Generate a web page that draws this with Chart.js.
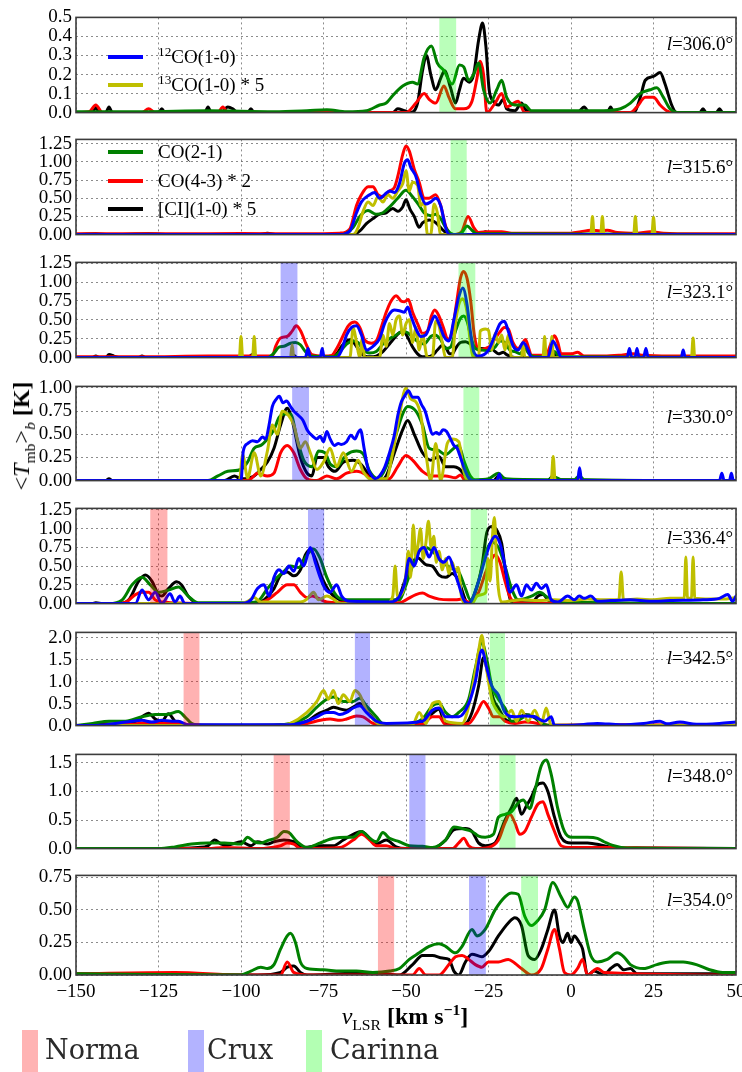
<!DOCTYPE html>
<html><head><meta charset="utf-8">
<script src="https://cdn.jsdelivr.net/npm/chart.js@4.4.0/dist/chart.umd.min.js"></script>
<style>
html,body{margin:0;padding:0;background:#fff;width:742px;height:1072px;overflow:hidden;position:relative;font-family:'Liberation Serif',serif;}
canvas{position:absolute;left:0}
.t{position:absolute;white-space:nowrap;color:#000;font-size:19px;line-height:19px}
.ln{position:absolute;height:4px;width:35px;left:108px}
.rect{position:absolute;width:16px;top:1030px;height:42px}
.bl{position:absolute;font-family:'DejaVu Serif',serif;font-size:27px;color:#2a2a2a;top:1036px;line-height:27px}
sub,sup{font-size:70%;line-height:0}
</style></head><body>
<span style="font-family:'Liberation Serif';position:absolute;left:-100px;top:-100px">0</span>
<script>
// ---------------- data ----------------
const longitudes = ['306.0','315.6','323.1','330.0','336.4','342.5','348.0','354.0'];
const velocityTicks = [-150,-125,-100,-75,-50,-25,0,25,50];
const normaBand   = [null,null,null,null,[-127.5,-122.3],[-117.4,-112.6],[-90.1,-85.2],[-58.5,-53.6]];
const cruxBand    = [null,null,[-88,-82.9],[-84.5,-79.4],[-79.7,-74.8],[-65.5,-60.9],[-49,-44.1],[-30.9,-25.8]];
const carinnaBand = [[-39.9,-34.8],[-36.5,-31.6],[-34.1,-29],[-32.6,-27.8],[-30.4,-25.4],[-24.6,-20],[-21.7,-16.8],[-15.1,-10]];

// panel 1 (l=306.0)
const p1_12co = [];
const p1_13co = [];
const p1_co21 = [[-150,0.005],[-130,0.005],[-110,0.01],[-90,0.005],[-80,0.01],[-74,0.015],[-68,0.005],[-62,0.01],[-58,0.04],[-56,0.05],[-54,0.09],[-51,0.14],[-48,0.16],[-46.5,0.15],[-44.5,0.29],[-42.3,0.35],[-40.5,0.26],[-38.5,0.22],[-36,0.15],[-33.8,0.25],[-32.5,0.24],[-31,0.17],[-29.5,0.2],[-28,0.26],[-26.5,0.12],[-24.5,0.05],[-22.5,0.12],[-21,0.17],[-19.5,0.08],[-17,0.04],[-14,0.04],[-12,0.01],[-5,0.01],[2,0.01],[10,0.01],[15,0.02],[18,0.05],[21,0.1],[24,0.12],[26,0.13],[28,0.08],[30,0.02],[33,0.0],[50,0.0]];
const p1_co43 = [[-150,0],[-146,0.005],[-144,0.04],[-142,0.0],[-130,0.0],[-128,0.02],[-126,0.0],[-107,0.0],[-105.5,0.03],[-104,0.0],[-60,0.0],[-50,0.0],[-47,0.05],[-44.5,0.1],[-43,0.07],[-41,0.05],[-38.5,0.14],[-37,0.08],[-35,0.02],[-32.5,0.02],[-30,0.06],[-28.5,0.18],[-27.5,0.27],[-26.5,0.2],[-25.5,0.0],[-23,0.05],[-21,0.1],[-19.5,0.03],[-16,0.06],[-14,0.0],[18,0.0],[20,0.03],[22.5,0.08],[25,0.08],[27,0.04],[29,0.01],[31,0],[50,0]];
const p1_ci = [[-150,0.0],[-145,0.0],[-144,0.03],[-143,0.0],[-141,0.0],[-140,0.03],[-139,0.0],[-125,0.0],[-124,0.02],[-123,0.0],[-111,0.0],[-110,0.03],[-109,0.0],[-106,0.0],[-104,0.03],[-102.5,0.02],[-101,0.0],[-98,0.0],[-97,0.02],[-96,0.0],[-54,0.0],[-52.5,0.02],[-50.5,0.01],[-48.5,0.0],[-46.5,0.05],[-45,0.22],[-43.8,0.3],[-42.5,0.2],[-41,0.12],[-39.5,0.18],[-38.3,0.22],[-36.5,0.13],[-35,0.05],[-33.8,0.12],[-32.6,0.18],[-30.8,0.16],[-29.5,0.2],[-28,0.38],[-26.8,0.47],[-25.8,0.35],[-24.8,0.12],[-23.5,0.06],[-22,0.04],[-20.5,0.07],[-19.5,0.02],[-17,0.01],[-15,0.05],[-14,0.02],[-12,0.0],[2,0],[4,0.03],[5.5,0.0],[11,0.0],[12,0.03],[13,0.0],[19,0.0],[21,0.08],[22.5,0.17],[25,0.19],[27,0.21],[28.5,0.15],[30.5,0.04],[32,0.0],[39,0],[40,0.02],[41,0],[44,0],[45,0.02],[46,0],[50,0]];

// panel 2 (l=315.6)
const p2_12co = [[-150,0],[-70,0],[-67,0.05],[-65,0.3],[-63.5,0.45],[-61,0.55],[-59.5,0.58],[-58,0.5],[-56.5,0.55],[-55,0.6],[-53.5,0.58],[-52,0.7],[-50.5,0.98],[-49.5,1.03],[-48.5,0.92],[-47,0.8],[-45.5,0.55],[-44,0.42],[-42.5,0.45],[-41,0.5],[-39.5,0.4],[-38,0.1],[-37,0.0],[50,0]];
const p2_13co = [[-150,0],[-66,0],[-64.5,0.1],[-63,0.32],[-61.5,0.45],[-60,0.4],[-58.5,0.52],[-57,0.45],[-55.5,0.55],[-54,0.5],[-52.5,0.6],[-51,0.7],[-50,0.88],[-49,0.6],[-48,0.72],[-46.5,0.68],[-45.5,0.4],[-44.5,0.45],[-43.5,0.0],[-42.5,0.0],[-41.5,0.42],[-40.5,0.3],[-39.5,0.0],[6,0],[6.5,0.25],[7,0],[9,0],[9.5,0.25],[10,0],[19,0],[19.5,0.25],[20,0],[24.5,0],[25,0.24],[25.5,0],[50,0]];
const p2_co21 = [[-150,0],[-69,0],[-66,0.1],[-64,0.25],[-61.5,0.33],[-59,0.28],[-57,0.3],[-55,0.38],[-52.5,0.5],[-50,0.61],[-48,0.52],[-46,0.4],[-44.5,0.3],[-42.5,0.26],[-41,0.28],[-39.5,0.22],[-38,0.1],[-36.5,0.02],[-34.5,0.0],[-33,0.03],[-31.5,0.12],[-30,0.06],[-28.5,0.01],[-20,0.01],[50,0]];
const p2_co43 = [[-150,0.01],[-120,0.01],[-100,0.015],[-80,0.01],[-70,0.02],[-67,0.08],[-65,0.4],[-63.5,0.55],[-61.5,0.66],[-60,0.66],[-58.5,0.55],[-57,0.52],[-55,0.6],[-53.5,0.65],[-52.5,0.8],[-51,1.1],[-50,1.22],[-49,1.15],[-47.5,0.9],[-46,0.72],[-44.5,0.5],[-43,0.5],[-41,0.55],[-39.5,0.4],[-38,0.12],[-36.5,0.01],[-35,0.0],[-33,0.05],[-31.2,0.25],[-29.5,0.1],[-28,0.03],[-25,0.04],[-21,0.04],[-18,0.02],[0,0.02],[3,0.04],[6,0.06],[9,0.05],[11,0.06],[14,0.03],[20,0.02],[24,0.04],[28,0.02],[38,0.01],[50,0.01]];
const p2_ci = [[-150,0],[-144,0.01],[-140,0.0],[-128,0.01],[-120,0.0],[-95,0.0],[-92,0.02],[-89,0.0],[-66,0.0],[-64,0.05],[-62,0.15],[-60,0.22],[-58,0.28],[-56,0.3],[-54,0.36],[-52.5,0.32],[-51,0.38],[-50,0.48],[-48.8,0.35],[-47.5,0.25],[-46,0.1],[-45,0.16],[-43,0.2],[-41.5,0.18],[-40,0.12],[-38.5,0.05],[-37,0.0],[-27,0.0],[-26,0.04],[-24.5,0.02],[-22,0.03],[-20,0.0],[23,0.0],[25,0.04],[27,0.0],[50,0]];

// panel 3 (l=323.1)
const p3_12co = [[-150,0],[-80.5,0],[-79.7,0.12],[-79,0],[-76,0],[-75.4,0.12],[-74.8,0],[-71,0],[-69.5,0.1],[-68,0.3],[-66.5,0.4],[-65,0.42],[-63.5,0.3],[-62,0.1],[-60,0.15],[-58,0.25],[-56.5,0.45],[-55,0.58],[-53.5,0.63],[-52,0.62],[-50.5,0.6],[-49.5,0.67],[-48.5,0.55],[-47,0.38],[-45.5,0.28],[-44,0.3],[-42.5,0.45],[-41.3,0.55],[-40,0.45],[-38.5,0.28],[-37,0.22],[-35.5,0.5],[-34,0.8],[-32.8,0.92],[-31.5,0.7],[-30.5,0.35],[-29.5,0.08],[-28,0.02],[-25,0.1],[-23,0.3],[-21.5,0.45],[-20.2,0.48],[-19,0.35],[-17.5,0.15],[-16,0.1],[-14.5,0.2],[-13,0.1],[-12,0.0],[-7,0.0],[-5.5,0.22],[-4,0.1],[-3,0.0],[17,0],[17.7,0.12],[18.4,0],[19.4,0],[20,0.12],[20.6,0],[22,0],[22.7,0.12],[23.4,0],[33.4,0],[34,0.1],[34.6,0],[50,0]];
const p3_13co = [[-150,0],[-100.5,0],[-100,0.28],[-99.5,0],[-96.5,0],[-96,0.28],[-95.5,0],[-85,0],[-84.5,0.17],[-84,0],[-67,0],[-66,0.4],[-65,0.2],[-64,0.0],[-63.3,0.25],[-62.5,0.0],[-58,0.0],[-57,0.3],[-56,0.15],[-55,0.45],[-54,0.3],[-53,0.5],[-52,0.55],[-51,0.3],[-50,0.45],[-49,0.5],[-48,0.2],[-47,0.4],[-46,0.1],[-45,0.3],[-43.5,0.0],[-42,0.0],[-41,0.48],[-40,0.42],[-39,0.2],[-38,0.0],[-36,0.0],[-35,0.45],[-34,0.7],[-32.8,0.78],[-31.5,0.6],[-30.5,0.2],[-29.5,0.0],[-28,0.0],[-27.5,0.35],[-26,0.38],[-25,0.36],[-24,0.1],[-23,0.32],[-22,0.2],[-21,0.3],[-20,0.1],[-19,0.3],[-18,0.0],[-15,0],[-14.5,0.2],[-14,0],[-8.5,0],[-8,0.28],[-7.5,0],[-6.3,0],[-5.8,0.28],[-5.3,0],[36.5,0],[37,0.26],[37.5,0],[50,0]];
const p3_co21 = [[-150,0],[-92,0],[-90,0.06],[-88.5,0.14],[-87,0.15],[-85,0.19],[-83.5,0.2],[-82,0.17],[-80.5,0.08],[-79,0.02],[-72,0.01],[-70,0.08],[-68,0.18],[-66,0.22],[-64.5,0.2],[-63,0.1],[-61,0.06],[-59,0.08],[-57,0.18],[-55,0.25],[-53,0.3],[-51,0.35],[-49.5,0.33],[-48,0.27],[-46,0.2],[-44.5,0.18],[-42.5,0.28],[-41.3,0.3],[-39.5,0.24],[-38,0.12],[-36.5,0.14],[-35,0.35],[-33.5,0.52],[-32.5,0.55],[-31.5,0.48],[-30.2,0.25],[-29,0.12],[-27,0.1],[-25,0.09],[-23,0.14],[-21.5,0.22],[-20,0.2],[-18.5,0.1],[-17,0.08],[-15.5,0.05],[-14,0.12],[-12.7,0.05],[-11,0.01],[-6.5,0.01],[-5,0.08],[-3.5,0.01],[50,0]];
const p3_co43 = [[-150,0.01],[-130,0.01],[-110,0.02],[-95,0.02],[-90.5,0.02],[-89.5,0.15],[-88,0.26],[-86,0.28],[-84.5,0.35],[-83.3,0.42],[-82,0.36],[-80,0.15],[-78.5,0.04],[-75,0.02],[-72.5,0.03],[-71,0.12],[-69.5,0.25],[-67.5,0.42],[-65.5,0.47],[-64,0.4],[-62.5,0.23],[-60.5,0.19],[-59,0.22],[-57.5,0.4],[-56,0.6],[-54.5,0.75],[-53,0.82],[-51.5,0.75],[-50.5,0.74],[-49.3,0.77],[-48,0.6],[-46.5,0.45],[-45,0.32],[-43.5,0.35],[-42.3,0.55],[-41.3,0.63],[-40,0.55],[-38.7,0.4],[-37.3,0.24],[-36,0.35],[-34.8,0.69],[-33.5,1.05],[-32.6,1.14],[-31.5,1.05],[-30.4,0.75],[-29.3,0.3],[-28,0.1],[-26,0.12],[-24.6,0.15],[-23,0.25],[-21.7,0.33],[-20.2,0.4],[-19,0.38],[-17.6,0.2],[-16,0.12],[-14.8,0.18],[-13.8,0.24],[-12.8,0.12],[-12,0.03],[-9,0.03],[-7.3,0.05],[-6,0.2],[-5,0.29],[-4,0.2],[-3,0.05],[0,0.05],[2,0.07],[4,0.02],[10,0.02],[14.5,0.03],[18.8,0.05],[22,0.03],[30,0.02],[40,0.02],[50,0.02]];
const p3_ci = [[-150,0.0],[-145,0.0],[-144,0.02],[-143,0.0],[-141,0.0],[-140,0.04],[-138.5,0.02],[-137,0.0],[-131,0.0],[-130,0.02],[-129,0.0],[-98,0],[-96.5,0.04],[-95,0.01],[-93,0.0],[-85,0.0],[-84,0.03],[-83,0.0],[-73,0.0],[-71,0.05],[-69.5,0.15],[-68,0.22],[-66.7,0.24],[-65.5,0.18],[-64,0.08],[-62.5,0.02],[-61,0.01],[-59,0.02],[-57,0.08],[-55,0.18],[-53.5,0.26],[-52,0.33],[-50.7,0.35],[-49.5,0.27],[-48,0.14],[-46.5,0.05],[-45,0.01],[-43.5,0.01],[-42,0.03],[-40.5,0.1],[-39,0.16],[-37.8,0.12],[-36.8,0.05],[-36,0.05],[-35,0.12],[-33.5,0.2],[-32,0.21],[-30.5,0.18],[-29,0.14],[-27.5,0.12],[-26,0.12],[-24.5,0.13],[-23,0.08],[-22,0.05],[-20.5,0.07],[-19.5,0.04],[-18,0.01],[-16,0.0],[-7,0.0],[-5.5,0.05],[-4.5,0.03],[-3,0.0],[50,0]];

// panel 4 (l=330.0)
const p4_12co = [[-150,0],[-100,0],[-99.3,0.32],[-98,0.4],[-96.5,0.43],[-95,0.42],[-93.5,0.47],[-92.5,0.45],[-91.5,0.6],[-90.5,0.8],[-89.3,0.88],[-88.4,0.91],[-87.3,0.84],[-86.2,0.86],[-85,0.8],[-84,0.75],[-82.5,0.7],[-81.2,0.65],[-80,0.55],[-78.3,0.48],[-77,0.45],[-76,0.48],[-75,0.42],[-74,0.53],[-73,0.45],[-71.7,0.38],[-70.5,0.4],[-69.6,0.39],[-68,0.42],[-66.7,0.49],[-65.5,0.45],[-64.5,0.52],[-63.8,0.55],[-62.7,0.35],[-61.6,0.14],[-60.5,0.06],[-59.4,0.02],[-58,0.05],[-56.5,0.14],[-55,0.3],[-53.6,0.48],[-52.5,0.7],[-51.4,0.85],[-50.3,0.92],[-49.3,0.97],[-48,0.9],[-46.4,0.9],[-45.3,0.82],[-44.2,0.75],[-43,0.6],[-42,0.5],[-40.8,0.52],[-39.9,0.5],[-38.8,0.55],[-37.7,0.53],[-36.5,0.45],[-35.5,0.38],[-34.5,0.35],[-33.3,0.23],[-32.2,0.12],[-31.2,0.04],[-30,0.0],[-22.5,0],[-21.7,0.07],[-21,0],[2,0],[2.6,0.14],[3.2,0],[45,0],[45.7,0.08],[46.4,0],[48,0],[48.6,0.08],[49.2,0],[50,0]];
const p4_13co = [[-150,0],[-100.5,0],[-99.5,0.28],[-98,0.03],[-96,0.3],[-94,0.05],[-92,0.32],[-90.5,0.6],[-89,0.5],[-87.5,0.75],[-85.5,0.7],[-84,0.6],[-82,0.35],[-80.5,0.42],[-79,0.3],[-77,0.12],[-75,0.2],[-73,0.35],[-71,0.15],[-69,0.3],[-66.5,0.1],[-64.5,0.22],[-63,0.1],[-61,0.02],[-56,0.02],[-54,0.3],[-52,0.7],[-50,1.0],[-48.5,0.88],[-47,0.85],[-45.5,0.7],[-44,0.3],[-42.5,0.0],[-41,0.4],[-39.5,0.0],[-37.5,0.4],[-36,0.45],[-34,0.42],[-32.5,0.1],[-31,0.0],[-6,0],[-5.4,0.26],[-4.8,0],[50,0]];
const p4_co21 = [[-150,0],[-110,0.0],[-107,0.05],[-104,0.1],[-100,0.12],[-98,0.2],[-96,0.35],[-94,0.38],[-92,0.45],[-90,0.55],[-88.5,0.68],[-87,0.72],[-85,0.72],[-83,0.45],[-81,0.22],[-78.5,0.15],[-76.5,0.32],[-74.5,0.3],[-73,0.18],[-71,0.15],[-68,0.28],[-65,0.32],[-63,0.29],[-61,0.1],[-58.5,0.02],[-56,0.15],[-53,0.5],[-51,0.72],[-49.5,0.8],[-47,0.75],[-45,0.6],[-43,0.35],[-40.5,0.33],[-38,0.28],[-35.5,0.35],[-34,0.38],[-32.5,0.22],[-30.5,0.05],[-29,0.01],[-25,0.02],[-22,0.08],[-20,0.02],[-7,0.01],[-5,0.04],[-3,0.01],[1,0.01],[2.5,0.05],[4,0.01],[50,0]];
const p4_co43 = [[-150,0],[-100,0.0],[-97,0.02],[-95,0.08],[-92,0.05],[-90,0.08],[-88,0.3],[-86,0.38],[-84,0.3],[-82,0.12],[-80,0.02],[-77,0.0],[-74,0.05],[-71,0.02],[-68,0.08],[-65,0.1],[-62,0.06],[-60,0.0],[-55,0.02],[-52.5,0.15],[-50,0.27],[-48,0.22],[-45,0.1],[-42,0.05],[-38,0.05],[-35,0.03],[-33.5,0.06],[-32,0.0],[50,0]];
const p4_ci = [[-150,0],[-141,0],[-140,0.02],[-139,0],[-105,0.0],[-102,0.05],[-100,0.02],[-96,0.05],[-94,0.12],[-92,0.2],[-90,0.35],[-88,0.6],[-86,0.78],[-84.5,0.65],[-82,0.25],[-80,0.08],[-78.5,0.05],[-77,0.25],[-75,0.25],[-73.5,0.15],[-71.5,0.1],[-69,0.2],[-66,0.22],[-63.5,0.17],[-61,0.05],[-58.5,0.0],[-56,0.05],[-53.5,0.3],[-51,0.55],[-49.5,0.65],[-47.5,0.5],[-45,0.3],[-42.5,0.22],[-40,0.26],[-38,0.15],[-35.5,0.15],[-34,0.13],[-32,0.05],[-30,0.0],[-23.5,0],[-22,0.05],[-20.5,0.03],[-19,0],[-7,0],[-5.5,0.05],[-4,0.01],[50,0]];

// panel 5 (l=336.4)
const p5_12co = [[-150,0],[-132,0.0],[-130,0.18],[-128,0.05],[-126,0.15],[-124,0.0],[-121.5,0.13],[-120,0.02],[-118.5,0.1],[-117,0.0],[-100,0.0],[-97,0.05],[-95,0.2],[-93,0.25],[-91.5,0.1],[-90,0.35],[-88.5,0.45],[-87,0.4],[-85.5,0.5],[-84,0.43],[-82.5,0.6],[-81,0.5],[-79,0.75],[-77.5,0.55],[-76,0.35],[-74.5,0.2],[-73,0.15],[-71,0.25],[-69.5,0.1],[-67,0.03],[-55,0.02],[-50.5,0.25],[-49,0.6],[-47.5,0.5],[-46,0.7],[-44.5,0.75],[-43,0.62],[-41.5,0.75],[-40,0.6],[-38.5,0.55],[-37,0.62],[-35.5,0.45],[-34,0.25],[-32.5,0.05],[-31,0.0],[-28,0.3],[-26,0.6],[-24.5,0.8],[-23,0.9],[-21.5,0.8],[-20,0.5],[-18.5,0.15],[-16.5,0.25],[-15,0.1],[-13.5,0.25],[-12,0.18],[-10.5,0.27],[-9,0.2],[-7.5,0.25],[-6,0.05],[-4,0.02],[-1,0.1],[1,0.05],[2.5,0.1],[4,0.07],[6,0.1],[8,0.03],[12,0.04],[18,0.05],[24,0.03],[30,0.04],[40,0.05],[45,0.07],[47.5,0.12],[49,0.03],[50,0.1]];
const p5_13co = [[-150,0],[-100,0],[-98,0.03],[-96,0.08],[-94,0.02],[-82,0.02],[-80,0.06],[-78,0.15],[-76.5,0.05],[-74,0.1],[-72,0.06],[-70,0.0],[-56,0.0],[-54,0.1],[-53.3,0.5],[-52.6,0.1],[-51,0.15],[-50,0.4],[-49.3,0.7],[-48.6,0.35],[-47.8,1.05],[-47,0.6],[-46.3,0.8],[-45.6,1.0],[-44.8,0.6],[-44,0.8],[-43.2,1.1],[-42.4,0.75],[-41.6,0.9],[-40.8,0.55],[-40,0.7],[-39,0.45],[-38,0.6],[-37,0.4],[-36,0.55],[-35,0.42],[-34.2,0.48],[-33.2,0.1],[-32,0.0],[-30,0.0],[-28.5,0.1],[-27,0.12],[-25.8,0.15],[-25.2,0.6],[-24.5,0.3],[-23.8,0.9],[-23.2,1.15],[-22.6,0.6],[-22,0.2],[-21,0.02],[-19,0.03],[-15,0.05],[-10,0.04],[-5,0.05],[0,0.04],[5,0.06],[10,0.05],[14.5,0.05],[15.2,0.42],[15.9,0.05],[20,0.06],[25,0.05],[30,0.07],[34.3,0.07],[34.8,0.62],[35.3,0.07],[36.5,0.07],[37,0.62],[37.5,0.07],[42,0.06],[46,0.06],[50,0.08]];
const p5_co21 = [[-150,0],[-140,0.0],[-136,0.05],[-133,0.25],[-130,0.35],[-127.5,0.25],[-125,0.15],[-122,0.18],[-119,0.22],[-116,0.1],[-113,0.01],[-100,0.01],[-95,0.03],[-92,0.2],[-89,0.35],[-87,0.43],[-85,0.5],[-82.5,0.48],[-80,0.65],[-78,0.73],[-76,0.6],[-74,0.35],[-71,0.1],[-68,0.05],[-52,0.05],[-50,0.25],[-48,0.5],[-46,0.7],[-44,0.75],[-42,0.7],[-39,0.55],[-36,0.47],[-34,0.42],[-32,0.2],[-30.5,0.05],[-28,0.3],[-26,0.65],[-24,0.82],[-22,0.75],[-20,0.5],[-18,0.2],[-16,0.05],[-12,0.1],[-9.5,0.15],[-7,0.08],[-4,0.02],[50,0.0]];
const p5_co43 = [[-150,0],[-140,0.0],[-135,0.02],[-132,0.12],[-130,0.15],[-128,0.15],[-126,0.05],[-124,0.02],[-110,0.0],[-95,0.0],[-92,0.05],[-89,0.15],[-86,0.25],[-84,0.25],[-82,0.15],[-80,0.08],[-78.5,0.1],[-77,0.08],[-74,0.02],[-70,0.01],[-52,0.01],[-50,0.05],[-47,0.12],[-45,0.14],[-43,0.1],[-40,0.06],[-37,0.05],[-35,0.05],[-33,0.06],[-31,0.02],[-28,0.15],[-26,0.4],[-24,0.6],[-23,0.65],[-21.5,0.55],[-20,0.3],[-18,0.05],[-15,0.01],[-12,0.0],[50,0]];
const p5_ci = [[-150,0.0],[-145,0.0],[-144,0.01],[-142,0.0],[-137,0.0],[-134,0.05],[-131,0.3],[-129,0.38],[-127,0.3],[-125,0.12],[-124,0.1],[-122,0.2],[-119.5,0.29],[-118,0.25],[-116,0.1],[-113,0.0],[-100,0.0],[-95,0.01],[-93,0.05],[-90,0.2],[-88,0.38],[-86,0.42],[-84,0.37],[-82,0.45],[-80.5,0.65],[-79,0.72],[-77.5,0.6],[-75.5,0.35],[-73,0.15],[-70,0.05],[-65,0.01],[-55,0.02],[-52,0.1],[-50,0.35],[-48,0.55],[-46.5,0.61],[-44,0.52],[-42,0.5],[-40,0.38],[-38,0.35],[-36,0.4],[-34,0.3],[-32,0.05],[-31,0.0],[-29,0.15],[-27,0.5],[-25.5,0.95],[-24,1.03],[-22.5,0.98],[-21,0.8],[-19.5,0.3],[-18,0.02],[-12,0.01],[-10,0.1],[-8.5,0.12],[-7,0.05],[-5,0.0],[50,0]];

// panel 6 (l=342.5)
const p6_12co = [[-150,0],[-145,0.0],[-138,0.05],[-133,0.1],[-130,0.12],[-127,0.08],[-124,0.12],[-121,0.1],[-119,0.1],[-116,0.02],[-85,0.02],[-80,0.1],[-77,0.2],[-74,0.3],[-72,0.3],[-70,0.25],[-68,0.3],[-66,0.4],[-64,0.45],[-62,0.3],[-59,0.1],[-56,0.05],[-45,0.1],[-42,0.35],[-40,0.4],[-38,0.2],[-34,0.2],[-31,0.5],[-29,1.0],[-27,1.72],[-25.5,1.3],[-24,0.9],[-22,0.7],[-20,0.3],[-17,0.2],[-14,0.22],[-11,0.2],[-8,0.1],[-6,0.2],[-5,0.0],[3,0.02],[8,0.05],[15,0.02],[22,0.05],[27,0.1],[29,0.04],[33,0.08],[38,0.03],[45,0.05],[50,0.08]];
const p6_13co = [[-150,0],[-88,0],[-85,0.05],[-80,0.3],[-77,0.55],[-75,0.8],[-73.5,0.6],[-72,0.8],[-70.5,0.5],[-69,0.7],[-67,0.55],[-65.5,0.8],[-64,0.7],[-62,0.35],[-60,0.15],[-58,0.03],[-48,0.02],[-46,0.3],[-44,0.05],[-42,0.5],[-40,0.55],[-38,0.1],[-33,0.05],[-30,0.8],[-28,1.7],[-27,2.05],[-26,1.5],[-24,0.6],[-22,0.3],[-20,0.2],[-18,0.35],[-16.5,0.1],[-15,0.35],[-13,0.1],[-11,0.35],[-9,0.05],[-7.5,0.4],[-6,0.0],[50,0]];
const p6_co21 = [[-150,0.0],[-145,0.05],[-140,0.1],[-135,0.1],[-130,0.2],[-126,0.25],[-122,0.26],[-119,0.32],[-117,0.2],[-115,0.05],[-112,0.01],[-90,0.01],[-85,0.05],[-80,0.2],[-77,0.42],[-74,0.6],[-72,0.65],[-69,0.55],[-66,0.55],[-64,0.62],[-62,0.45],[-59,0.2],[-57,0.05],[-50,0.05],[-45,0.15],[-42,0.45],[-40,0.5],[-38,0.3],[-36,0.2],[-34,0.3],[-31,0.6],[-29,1.3],[-27,1.88],[-25.5,1.5],[-24,0.9],[-22,0.6],[-20,0.4],[-18,0.1],[-16,0.12],[-13,0.24],[-11,0.2],[-9,0.06],[-7,0.01],[50,0]];
const p6_co43 = [[-150,0],[-145,0.0],[-140,0.02],[-133,0.03],[-130,0.06],[-125,0.05],[-120,0.06],[-116,0.02],[-90,0.0],[-80,0.05],[-76,0.12],[-73,0.15],[-70,0.12],[-68,0.15],[-65,0.22],[-63,0.2],[-60,0.05],[-57,0.02],[-45,0.03],[-42,0.2],[-40,0.2],[-38,0.02],[-31,0.05],[-28.5,0.3],[-26.5,0.55],[-25,0.4],[-23.5,0.2],[-21.5,0.2],[-20,0.1],[-17,0.05],[-14,0.08],[-10,0.05],[-7,0.01],[10,0.02],[50,0.01]];
const p6_ci = [[-150,0],[-145,0.0],[-142,0.05],[-138,0.02],[-133,0.05],[-130,0.2],[-128,0.28],[-126,0.15],[-124,0.1],[-122,0.27],[-120,0.1],[-118,0.05],[-116,0.0],[-85,0.02],[-80,0.1],[-77,0.25],[-74,0.35],[-72,0.42],[-70,0.38],[-68,0.35],[-66,0.42],[-64,0.5],[-62,0.35],[-59,0.1],[-57,0.03],[-50,0.02],[-45,0.08],[-42,0.28],[-40,0.38],[-38.5,0.1],[-36,0.02],[-32,0.05],[-30,0.3],[-28,0.9],[-26.5,1.55],[-25,1.1],[-23.5,0.6],[-22,0.4],[-20,0.15],[-17,0.08],[-14,0.25],[-11,0.18],[-9,0.05],[-7,0.0],[50,0]];

// panel 7 (l=348.0)
const p7_12co = [];
const p7_13co = [];
const p7_co21 = [[-150,0.0],[-125,0.0],[-120,0.03],[-115,0.08],[-110,0.1],[-105,0.1],[-100,0.08],[-98,0.2],[-96,0.12],[-94,0.1],[-92,0.14],[-89,0.2],[-87,0.3],[-85.5,0.28],[-83,0.12],[-80,0.02],[-76,0.1],[-72,0.18],[-68,0.2],[-66,0.2],[-63.5,0.3],[-61,0.18],[-59,0.12],[-57,0.28],[-55,0.18],[-52,0.12],[-49,0.05],[-45,0.04],[-42,0.02],[-38,0.15],[-35.5,0.38],[-33,0.35],[-30,0.3],[-28,0.22],[-26,0.2],[-23.5,0.25],[-22,0.55],[-20,0.6],[-18,0.65],[-16,0.8],[-14.5,0.85],[-12.5,0.7],[-11,1.0],[-9,1.45],[-7.5,1.55],[-6,1.3],[-4,0.7],[-2,0.3],[0,0.2],[5,0.2],[8,0.18],[10,0.12],[13,0.05],[17,0.01],[50,0.0]];
const p7_co43 = [[-150,0.0],[-110,0.0],[-105,0.02],[-95,0.0],[-88,0.05],[-86,0.1],[-84,0.08],[-82,0.0],[-70,0.02],[-66,0.15],[-63.5,0.25],[-61,0.15],[-59,0.05],[-56,0.05],[-53,0.0],[-36,0.0],[-34,0.1],[-32.5,0.18],[-31,0.05],[-29,0.0],[-25,0.02],[-22,0.15],[-20,0.45],[-18.5,0.6],[-17,0.45],[-15.5,0.25],[-14,0.3],[-12,0.55],[-10,0.78],[-8.5,0.82],[-7,0.6],[-5,0.3],[-3,0.05],[0,0.02],[10,0.02],[25,0.01],[50,0.0]];
const p7_ci = [[-150,0.0],[-125,0.0],[-113,0.02],[-110,0.05],[-108,0.15],[-106,0.08],[-104,0.06],[-100,0.12],[-97,0.05],[-95,0.12],[-92,0.08],[-90,0.12],[-87,0.15],[-84,0.12],[-81,0.02],[-76,0.05],[-72,0.05],[-69,0.15],[-66,0.25],[-63.5,0.3],[-61,0.18],[-59,0.08],[-56,0.15],[-53,0.03],[-50,0.0],[-42,0.0],[-38,0.15],[-35.5,0.33],[-32,0.35],[-30,0.3],[-28,0.1],[-26,0.05],[-23,0.1],[-20,0.5],[-18,0.72],[-16.5,0.88],[-15,0.6],[-13.5,0.75],[-12,0.9],[-10.5,1.1],[-8.5,1.15],[-7,1.0],[-5,0.55],[-3,0.2],[0,0.1],[5,0.1],[10,0.05],[15,0.0],[20,0.01],[50,0.0]];

// panel 8 (l=354.0)
const p8_12co = [];
const p8_13co = [];
const p8_co21 = [[-150,0.01],[-100,0.0],[-97,0.03],[-94,0.06],[-92,0.05],[-90,0.08],[-88,0.2],[-86,0.3],[-85,0.32],[-83.5,0.25],[-82,0.1],[-80,0.05],[-75,0.04],[-70,0.03],[-65,0.03],[-60,0.02],[-55,0.03],[-52,0.05],[-49,0.12],[-46,0.17],[-43,0.22],[-40,0.24],[-38,0.22],[-35,0.17],[-33,0.22],[-30,0.35],[-28.5,0.3],[-26,0.35],[-23,0.5],[-20,0.6],[-18,0.63],[-16,0.62],[-14,0.45],[-12,0.38],[-10,0.42],[-8,0.5],[-5.5,0.71],[-3,0.6],[-1,0.52],[1,0.6],[2,0.57],[4,0.35],[6,0.15],[8,0.1],[11,0.12],[14,0.17],[16,0.14],[18,0.08],[22,0.05],[26,0.08],[30,0.1],[34,0.1],[38,0.08],[42,0.04],[46,0.02],[50,0.02]];
const p8_co43 = [[-150,0.01],[-120,0.02],[-100,0.0],[-88,0.0],[-86,0.1],[-84,0.02],[-80,0.0],[-48,0.0],[-46,0.05],[-44,0.0],[-40,0.0],[-37,0.08],[-35,0.14],[-33,0.15],[-31,0.12],[-29,0.08],[-27,0.06],[-25,0.1],[-22,0.1],[-19,0.12],[-17,0.09],[-15,0.05],[-12,0.0],[-9,0.05],[-7,0.2],[-5,0.35],[-3.5,0.2],[-2,0.02],[0,0.0],[2,0.05],[3.5,0.12],[5,0.0],[8,0.05],[10,0.02],[50,0.0]];
const p8_ci = [[-150,0.01],[-95,0.0],[-88,0.02],[-86,0.06],[-84,0.07],[-82,0.02],[-80,0.0],[-60,0.02],[-52,0.0],[-48,0.08],[-45,0.15],[-42,0.15],[-39,0.13],[-37,0.12],[-35.5,0.03],[-34,0.0],[-32,0.1],[-30,0.16],[-27,0.14],[-25,0.18],[-22,0.3],[-19,0.4],[-17,0.44],[-15,0.38],[-13,0.15],[-11,0.12],[-9,0.2],[-7,0.35],[-5,0.5],[-3.5,0.3],[-2.5,0.25],[-1,0.32],[0,0.25],[1,0.3],[2.5,0.25],[3.5,0.2],[5,0.0],[7,0.03],[10,0.0],[12,0.05],[14,0.08],[16,0.04],[18,0.05],[20,0.01],[50,0.01]];

const yMax   = [0.5, 1.31, 1.26, 1.017, 1.27, 2.12, 1.65, 0.765];
const yStep  = [0.1, 0.25, 0.25, 0.25, 0.25, 0.5, 0.5, 0.25];
const yDigits= [1, 2, 2, 2, 2, 1, 1, 2];

const panelSeries = [
  [p1_12co,p1_13co,p1_co21,p1_co43,p1_ci],
  [p2_12co,p2_13co,p2_co21,p2_co43,p2_ci],
  [p3_12co,p3_13co,p3_co21,p3_co43,p3_ci],
  [p4_12co,p4_13co,p4_co21,p4_co43,p4_ci],
  [p5_12co,p5_13co,p5_co21,p5_co43,p5_ci],
  [p6_12co,p6_13co,p6_co21,p6_co43,p6_ci],
  [p7_12co,p7_13co,p7_co21,p7_co43,p7_ci],
  [p8_12co,p8_13co,p8_co21,p8_co43,p8_ci]
];
const seriesColors = ['#0000ff','#bfbf00','#008000','#ff0000','#000000'];

// ---------------- layout ----------------
const panelTop    = [14,136,259,383,505,629,751,872];
const panelBottom = [116,238,361,484,607,729,852,975];
const PLOT_LEFT = 76, PLOT_RIGHT = 736, CANVAS_W = 770;
const tickFont = {family:'"Liberation Serif", "Times New Roman", serif', size:19, weight:'normal'};
const gridColor = 'rgba(0,0,0,0.45)';

const framePlugin = {
  id:'frame',
  afterDatasetsDraw(chart){
    const {ctx, chartArea:a} = chart;
    ctx.save();
    ctx.strokeStyle = '#3c3c3c';
    ctx.lineWidth = 1.6;
    ctx.strokeRect(a.left, a.top, a.right-a.left, a.bottom-a.top);
    ctx.restore();
  }
};
function bandPlugin(i){
  return {
    id:'bands'+i,
    afterDatasetsDraw(chart){
      const {ctx, chartArea:a, scales:{x}} = chart;
      const list = [[normaBand[i],'rgba(255,0,0,0.3)'],[cruxBand[i],'rgba(0,0,255,0.3)'],[carinnaBand[i],'rgba(0,255,0,0.27)']];
      ctx.save();
      for (const [b,c] of list){
        if(!b) continue;
        const x1 = x.getPixelForValue(b[0]), x2 = x.getPixelForValue(b[1]);
        ctx.fillStyle = c;
        ctx.fillRect(x1, a.top, x2-x1, a.bottom-a.top);
      }
      ctx.restore();
    }
  };
}

const charts = [];
function makePanel(i){
  const isLast = i===7;
  const padTop = 12, padBot = isLast ? 0 : 12, xH = isLast ? 30 : 0;
  const plotH = panelBottom[i]-panelTop[i];
  const H = padTop + plotH + padBot + xH;
  const cv = document.createElement('canvas');
  cv.width = CANVAS_W; cv.height = H;
  cv.style.width = CANVAS_W+'px'; cv.style.height = H+'px';
  cv.style.top = (panelTop[i]-padTop)+'px';
  document.body.appendChild(cv);
  const datasets = panelSeries[i].map((arr,k)=>({
    data: arr.map(p=>({x:p[0], y:p[1]})),
    borderColor: seriesColors[k],
    borderWidth: 3,
    pointRadius: 0,
    fill: false,
    cubicInterpolationMode: 'monotone',
    borderJoinStyle: 'round',
    borderCapStyle: 'round'
  }));
  const yTickVals = [];
  for (let k=0; k*yStep[i] <= yMax[i]+1e-9; k++) yTickVals.push(Math.round(k*yStep[i]*1000)/1000);
  charts.push(new Chart(cv, {
    type:'line',
    data:{datasets},
    options:{
      responsive:false, animation:false, devicePixelRatio:1,
      layout:{padding:{top:padTop, right:CANVAS_W-PLOT_RIGHT, bottom:padBot, left:0}},
      plugins:{legend:{display:false}, tooltip:{enabled:false}},
      scales:{
        x:{
          type:'linear', min:-150, max:50,
          afterFit:s=>{ s.height = xH; },
          afterBuildTicks:s=>{ s.ticks = velocityTicks.map(v=>({value:v})); },
          ticks:{display:isLast, autoSkip:false, maxRotation:0, padding:6, color:'#000', font:tickFont,
                 callback:v=> v<0 ? '\u2212'+Math.abs(v) : String(v)},
          grid:{color:gridColor, lineWidth:1, drawTicks:false},
          border:{display:false, dash:[2,3]}
        },
        y:{
          min:0, max:yMax[i],
          afterFit:s=>{ s.width = PLOT_LEFT; },
          afterBuildTicks:s=>{ s.ticks = yTickVals.map(v=>({value:v})); },
          ticks:{autoSkip:false, padding:4, color:'#000', font:tickFont,
                 callback:v=> Number(v).toFixed(yDigits[i])},
          grid:{color:gridColor, lineWidth:1, drawTicks:false},
          border:{display:false, dash:[2,3]}
        }
      }
    },
    plugins:[bandPlugin(i), framePlugin]
  }));
}
for (let i=0;i<8;i++) makePanel(i);
if (document.fonts && document.fonts.ready) {
  document.fonts.load('19px "Liberation Serif"').then(()=>charts.forEach(c=>c.update('none'))).catch(()=>{});
}

// ---------------- text overlays ----------------
function addHTML(html){ const d=document.createElement('div'); d.innerHTML=html; while(d.firstChild) document.body.appendChild(d.firstChild); }
const annotY = [44,167,292,417,538,658,776,900];
longitudes.forEach((l,i)=>{
  addHTML(`<div class="t" style="right:9px;top:${annotY[i]-10}px"><i>l</i>=${l}°</div>`);
});
const legendItems = [
  ['#0000ff','<sup>12</sup>CO(1-0)',57],
  ['#bfbf00','<sup>13</sup>CO(1-0) * 5',85],
  ['#008000','CO(2-1)',152],
  ['#ff0000','CO(4-3) * 2',181],
  ['#000000','[CI](1-0) * 5',209]
];
legendItems.forEach(([c,txt,y])=>{
  addHTML(`<div class="ln" style="background:${c};top:${y-2}px"></div><div class="t" style="left:158px;top:${y-10}px">${txt}</div>`);
});
addHTML(`<div style="position:absolute;left:21px;top:436px;transform:translate(-50%,-50%) rotate(-90deg);font-size:24px;white-space:nowrap;line-height:24px">&lt;<i>T</i><sub style="font-size:65%">mb</sub>&gt;<sub style="font-size:65%"><i>b</i></sub> <b>[K]</b></div>`);
addHTML(`<div style="position:absolute;left:405px;top:1004px;transform:translateX(-50%);font-size:24px;white-space:nowrap;line-height:24px"><i>v</i><sub style="font-size:65%">LSR</sub> <b>[km s<sup style="font-size:65%">&minus;1</sup>]</b></div>`);
addHTML(`<div class="rect" style="left:22px;background:#ffb3b3"></div><div class="bl" style="left:45px">Norma</div>
<div class="rect" style="left:188px;background:#b3b3ff"></div><div class="bl" style="left:207px">Crux</div>
<div class="rect" style="left:306px;background:#b3ffb3"></div><div class="bl" style="left:330px">Carinna</div>`);
</script>
</body></html>
